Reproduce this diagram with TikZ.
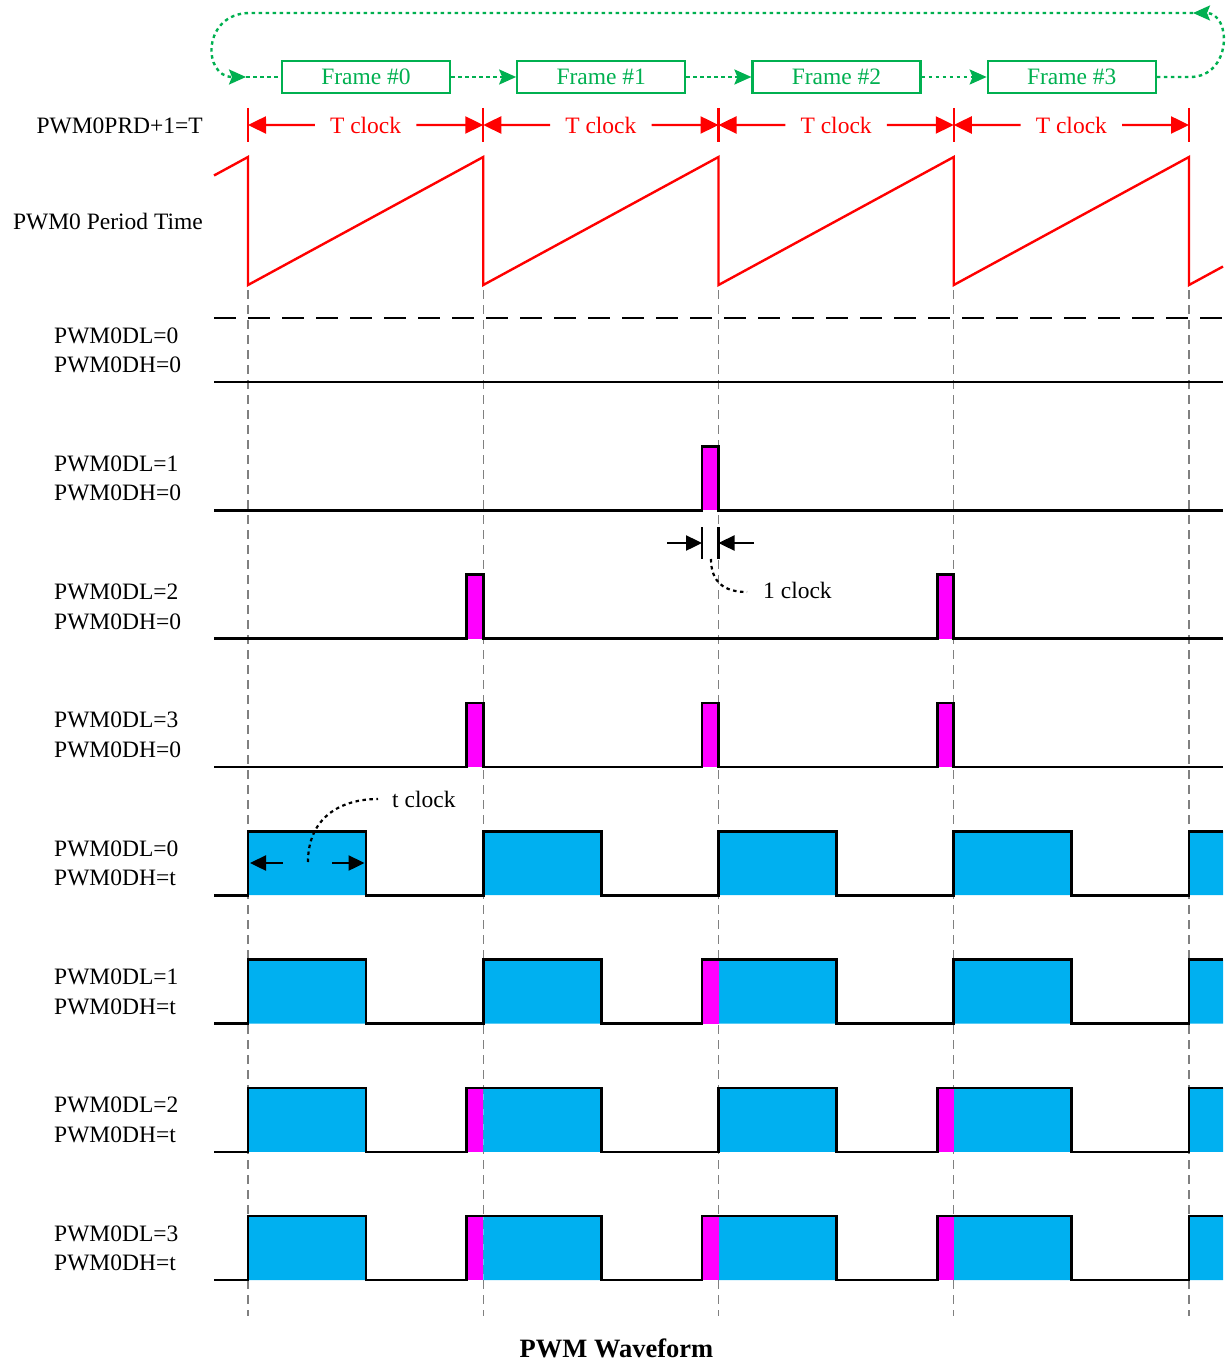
\documentclass[tikz,border=0pt]{standalone}
\usepackage{fontspec}
\setmainfont{Liberation Serif}
\usetikzlibrary{arrows.meta}
\definecolor{fgreen}{RGB}{0,176,80}
\definecolor{pblue}{RGB}{0,176,240}
\definecolor{pmag}{RGB}{255,0,255}
\definecolor{vgray}{RGB}{128,128,128}

% row with blue pulses; #1 low y; #2 #3 #4 = 1 if a magenta clock precedes edge 1,2,3
\newcommand\bluerow[4]{%
  \pgfmathsetmacro\hy{#1-64}%
  \def\sA{483.25}\def\sB{718.5}\def\sC{953.75}%
  \ifnum#2=1 \def\sA{466.75}\fi
  \ifnum#3=1 \def\sB{702}\fi
  \ifnum#4=1 \def\sC{937.25}\fi
  \fill[pblue] (248,\hy) rectangle (366,#1) (483.25,\hy) rectangle (601.25,#1)
    (718.5,\hy) rectangle (836.5,#1) (953.75,\hy) rectangle (1071.75,#1)
    (1189,\hy) rectangle (1223,#1);
  \ifnum#2=1 \fill[pmag] (\sA,\hy) rectangle (483.25,#1);\fi
  \ifnum#3=1 \fill[pmag] (\sB,\hy) rectangle (718.5,#1);\fi
  \ifnum#4=1 \fill[pmag] (\sC,\hy) rectangle (953.75,#1);\fi
  \draw[sig] (214,#1) -- (248,#1) -- (248,\hy) -- (366,\hy) -- (366,#1)
    -- (\sA,#1) -- (\sA,\hy) -- (601.25,\hy) -- (601.25,#1)
    -- (\sB,#1) -- (\sB,\hy) -- (836.5,\hy) -- (836.5,#1)
    -- (\sC,#1) -- (\sC,\hy) -- (1071.75,\hy) -- (1071.75,#1)
    -- (1189,#1) -- (1189,\hy) -- (1223,\hy);
}
% row with single-clock magenta spikes before edge 1,2,3
\newcommand\spikerow[4]{%
  \pgfmathsetmacro\hy{#1-64}%
  \def\pA{}\def\pB{}\def\pC{}%
  \ifnum#2=1 \fill[pmag] (466.75,\hy) rectangle (483.25,#1);
    \def\pA{-- (466.75,#1) -- (466.75,\hy) -- (483.25,\hy) -- (483.25,#1)}\fi
  \ifnum#3=1 \fill[pmag] (702,\hy) rectangle (718.5,#1);
    \def\pB{-- (702,#1) -- (702,\hy) -- (718.5,\hy) -- (718.5,#1)}\fi
  \ifnum#4=1 \fill[pmag] (937.25,\hy) rectangle (953.75,#1);
    \def\pC{-- (937.25,#1) -- (937.25,\hy) -- (953.75,\hy) -- (953.75,#1)}\fi
  \draw[sig] (214,#1) \pA\space \pB\space \pC\space -- (1223,#1);
}

\begin{document}
\begin{tikzpicture}[x=1pt,y=-1pt,
  font=\fontsize{23.5}{29}\selectfont,
  framebox/.style={draw=fgreen, line width=2.2pt, minimum width=168pt, minimum height=32pt, inner sep=0pt, text=fgreen},
  gdot/.style={draw=fgreen, line width=2.4pt, dash pattern=on 3.5pt off 3.5pt},
  gtip/.style={-{Stealth[length=17pt,width=15pt,inset=3pt]}},
  rline/.style={draw=red, line width=2.4pt},
  rtip/.style={-{Triangle[length=18pt,width=17pt]}},
  ktip/.style={-{Triangle[length=16pt,width=15pt]}},
  sig/.style={draw=black, line width=2.6pt, line join=miter},
  vdash/.style={draw=vgray, line width=1.3pt, dash pattern=on 9pt off 6pt},
  lab/.style={anchor=base west, inner sep=0pt},
  tclk/.style={anchor=base, text=red, inner xsep=15pt, inner ysep=0pt}
]
\useasboundingbox (0,0) rectangle (1228,1362);

% ---- frames ----
\node[framebox] (f0) at (366,77) {Frame \#0};
\node[framebox] (f1) at (601.25,77) {Frame \#1};
\node[framebox] (f2) at (836.5,77) {Frame \#2};
\node[framebox] (f3) at (1071.75,77) {Frame \#3};
\draw[gdot,gtip] (f0.east) -- (f1.west);
\draw[gdot,gtip] (f1.east) -- (f2.west);
\draw[gdot,gtip] (f2.east) -- (f3.west);
\coordinate (lr) at (1190,77);
\coordinate (tr) at (1193,13);
\coordinate (tl) at (250,13);
\coordinate (ll) at (246,77);
\draw[gdot,gtip] (f3.east) -- (lr) .. controls (1232,77) and (1232,13) .. (tr);
\draw[gdot,gtip] (tr) -- (tl) .. controls (202,13) and (202,77) .. (ll);
\draw[gdot] (ll) -- (f0.west);

% ---- period markers ----
\node[anchor=base east, inner sep=0pt] (prd) at (203,133) {PWM0PRD+1=T};
\foreach \i in {0,...,4} {
  \coordinate (tk\i) at ({248+235.25*\i},125);
  \draw[rline] ({248+235.25*\i},108) -- ({248+235.25*\i},142);
}
\foreach \i [evaluate=\i as \j using int(\i+1)] in {0,...,3} {
  \node[tclk] (tc\i) at ({365.6+235.25*\i},133) {T clock};
  \draw[rline,rtip] (tc\i.west) -- (tk\i);
  \draw[rline,rtip] (tc\i.east) -- (tk\j);
}

% ---- sawtooth ----
\node[anchor=base east, inner sep=0pt] (ptl) at (203,229) {PWM0 Period Time};
\draw[rline, line join=miter] (214,175.5) -- (248,157) -- (248,285) -- (483.25,157) -- (483.25,285)
  -- (718.5,157) -- (718.5,285) -- (953.75,157) -- (953.75,285) -- (1189,157) -- (1189,285) -- (1223,266.5);

% ---- vertical dashed guides ----
\foreach \i in {0,...,4}
  \draw[vdash] ({248+235.25*\i},290) -- ({248+235.25*\i},1316);

% ---- row 1 ----
\draw[black, line width=2.6pt, dash pattern=on 22pt off 12pt] (214,318) -- (1223,318);
\draw[sig] (214,382) -- (1223,382);

% ---- spike rows ----
\spikerow{510.3}{0}{1}{0}
\spikerow{638.6}{1}{0}{1}
\spikerow{766.9}{1}{1}{1}

% ---- blue rows ----
\bluerow{895.2}{0}{0}{0}
\bluerow{1023.5}{0}{1}{0}
\bluerow{1151.8}{1}{0}{1}
\bluerow{1280.1}{1}{1}{1}

% ---- labels ----
\node[lab] (a1) at (54,343) {PWM0DL=0};
\node[lab] (b1) at (54,372.5) {PWM0DH=0};
\node[lab] (a2) at (54,471.3) {PWM0DL=1};
\node[lab] (b2) at (54,500.8) {PWM0DH=0};
\node[lab] (a3) at (54,599.6) {PWM0DL=2};
\node[lab] (b3) at (54,629.1) {PWM0DH=0};
\node[lab] (a4) at (54,727.9) {PWM0DL=3};
\node[lab] (b4) at (54,757.4) {PWM0DH=0};
\node[lab] (a5) at (54,856.2) {PWM0DL=0};
\node[lab] (b5) at (54,885.7) {PWM0DH=t};
\node[lab] (a6) at (54,984.5) {PWM0DL=1};
\node[lab] (b6) at (54,1014) {PWM0DH=t};
\node[lab] (a7) at (54,1112.8) {PWM0DL=2};
\node[lab] (b7) at (54,1142.3) {PWM0DH=t};
\node[lab] (a8) at (54,1241.1) {PWM0DL=3};
\node[lab] (b8) at (54,1270.6) {PWM0DH=t};

% ---- 1 clock annotation ----
\coordinate (ca) at (702,543);
\coordinate (cb) at (718.5,543);
\coordinate (cas) at (667,543);
\coordinate (cbs) at (754,543);
\draw[black, line width=2.4pt] (702,527) -- (702,559);
\draw[black, line width=2.4pt] (718.5,527) -- (718.5,559);
\draw[black, line width=2.4pt, ktip] (cas) -- (ca);
\draw[black, line width=2.4pt, ktip] (cbs) -- (cb);
\node[lab] (oc) at (763,598) {1 clock};
\coordinate (ocs) at (711,559);
\draw[black, line width=2.2pt, dash pattern=on 3.5pt off 3.5pt] (ocs) .. controls (711,582) and (724,592) .. (747,592);

% ---- t clock annotation ----
\coordinate (ta) at (250,863);
\coordinate (tb) at (364.5,863);
\coordinate (tas) at (283,863);
\coordinate (tbs) at (332,863);
\draw[black, line width=2.4pt, ktip] (tas) -- (ta);
\draw[black, line width=2.4pt, ktip] (tbs) -- (tb);
\node[lab] (tcl) at (392,807) {t clock};
\draw[black, line width=2.2pt, dash pattern=on 3.5pt off 3.5pt] (308,862) .. controls (308,818) and (340,799) .. (378,799);

% ---- title ----
\node[anchor=base, inner sep=0pt, font=\fontsize{26.5}{32}\selectfont\bfseries] (title) at (616.5,1357) {PWM Waveform};
\end{tikzpicture}
\end{document}
